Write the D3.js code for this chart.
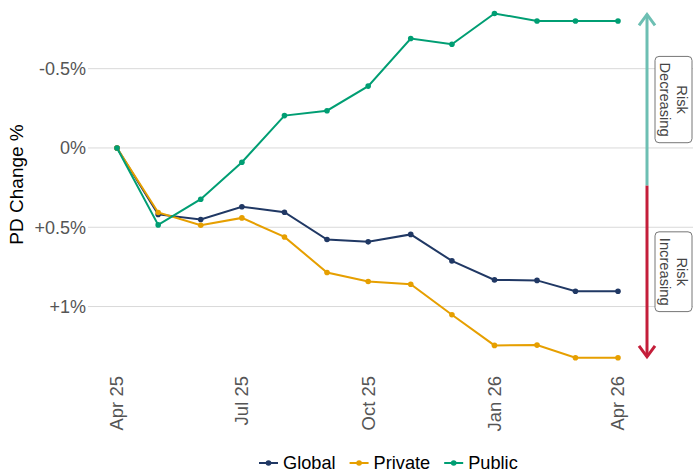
<!DOCTYPE html>
<html>
<head>
<meta charset="utf-8">
<script src="https://cdn.jsdelivr.net/npm/d3@7"></script>
<style>
  body { margin: 0; background: #fff; }
  svg { display: block; font-family: "Liberation Sans", Arial, sans-serif; }
</style>
</head>
<body>
<div id="canvas"></div>
<script>
// monthly dates
const months = ["2025-04-01","2025-05-01","2025-06-01","2025-07-01","2025-08-01","2025-09-01",
  "2025-10-01","2025-11-01","2025-12-01","2026-01-01","2026-02-01","2026-03-01","2026-04-01"];
const globalPD  = [0, 0.419, 0.451, 0.371, 0.405, 0.577, 0.592, 0.545, 0.712, 0.832, 0.835, 0.903, 0.903];
const privatePD = [0, 0.407, 0.487, 0.441, 0.561, 0.785, 0.842, 0.859, 1.052, 1.245, 1.243, 1.323, 1.323];
const publicPD  = [0, 0.485, 0.323, 0.090, -0.204, -0.235, -0.390, -0.690, -0.654, -0.848, -0.801, -0.801, -0.801];
const seriesNames = ["Global", "Private", "Public"];
const seriesColors = ["#203864", "#e69f00", "#009e73"];
const yTicks = [-0.5, 0, 0.5, 1];
const yTickLabels = ["-0.5%", "0%", "+0.5%", "+1%"];
const xTicks = ["2025-04-01", "2025-07-01", "2025-10-01", "2026-01-01", "2026-04-01"];
const xTickLabels = ["Apr 25", "Jul 25", "Oct 25", "Jan 26", "Apr 26"];
const riskLabels = [["Risk", "Decreasing"], ["Risk", "Increasing"]];

const width = 693, height = 472;
const parse = d3.timeParse("%Y-%m-%d");
const dates = months.map(parse);
const allSeries = [globalPD, privatePD, publicPD].map((vals, i) => ({
  name: seriesNames[i], color: seriesColors[i],
  values: vals.map((v, j) => ({ date: dates[j], v: v }))
}));

const svg = d3.select("#canvas").append("svg")
  .attr("width", width).attr("height", height);

const x = d3.scaleTime()
  .domain([parse(months[0]), parse(months[months.length - 1])])
  .range([117, 618]);
const y = d3.scaleLinear()
  .domain([-0.933, 1.40])
  .range([0, 370]);

// gridlines + y labels
const yAxis = svg.append("g");
yAxis.selectAll("line").data(yTicks).enter().append("line")
  .attr("x1", 88).attr("x2", width)
  .attr("y1", d => y(d)).attr("y2", d => y(d))
  .attr("stroke", "#d9d9d9").attr("stroke-width", 1);
yAxis.selectAll("text").data(yTicks).enter().append("text")
  .attr("x", 86).attr("y", d => y(d))
  .attr("dy", "0.35em")
  .attr("text-anchor", "end")
  .attr("font-size", 18).attr("fill", "#555")
  .text((d, i) => yTickLabels[i]);

svg.append("text")
  .attr("transform", `translate(23,${y(0.23)}) rotate(-90)`)
  .attr("text-anchor", "middle")
  .attr("font-size", 19).attr("fill", "#000")
  .text("PD Change %");

// x labels
svg.append("g").selectAll("text").data(xTicks).enter().append("text")
  .attr("transform", d => `translate(${x(parse(d))},376) rotate(-90)`)
  .attr("dy", "0.35em")
  .attr("text-anchor", "end")
  .attr("font-size", 18.5).attr("fill", "#555")
  .text((d, i) => xTickLabels[i]);

// risk arrow
const ext = d3.extent([].concat(globalPD, privatePD, publicPD));
const ax = 647, aTop = y(ext[0]), aBot = y(ext[1]), aMid = (aTop + aBot) / 2;
svg.append("line").attr("x1", ax).attr("x2", ax).attr("y1", aTop + 1).attr("y2", aMid)
  .attr("stroke", "#6dbfb3").attr("stroke-width", 3);
svg.append("line").attr("x1", ax).attr("x2", ax).attr("y1", aMid).attr("y2", aBot - 1)
  .attr("stroke", "#c41e3a").attr("stroke-width", 3);
svg.append("path")
  .attr("d", `M${ax - 8},${aTop + 12}L${ax},${aTop + 1}L${ax + 8},${aTop + 12}`)
  .attr("fill", "none").attr("stroke", "#6dbfb3").attr("stroke-width", 3);
svg.append("path")
  .attr("d", `M${ax - 8},${aBot - 12}L${ax},${aBot - 1}L${ax + 8},${aBot - 12}`)
  .attr("fill", "none").attr("stroke", "#c41e3a").attr("stroke-width", 3);

// label boxes
[0.25, 0.75].forEach((f, i) => {
  const cy = aTop + (aBot - aTop) * f;
  const g = svg.append("g").attr("transform", `translate(673.5,${cy}) rotate(90)`);
  const rect = g.append("rect");
  const t = g.append("text")
    .attr("text-anchor", "middle").attr("font-size", 14.7).attr("fill", "#444");
  riskLabels[i].forEach((s, k) => {
    t.append("tspan").attr("x", 0).attr("y", (k === 0 ? -8.35 : 8.35) + 5.2).text(s);
  });
  const w = d3.max(t.selectAll("tspan").nodes(), n => n.getComputedTextLength());
  rect.attr("x", -w / 2 - 6).attr("y", -18.5)
    .attr("width", w + 12).attr("height", 37)
    .attr("rx", 4)
    .attr("fill", "#fff").attr("stroke", "#666").attr("stroke-width", 0.9);
});

// lines and points
const line = d3.line().x(d => x(d.date)).y(d => y(d.v));
const sg = svg.append("g").selectAll("g").data(allSeries).enter().append("g");
sg.append("path")
  .attr("d", d => line(d.values))
  .attr("fill", "none")
  .attr("stroke", d => d.color)
  .attr("stroke-width", 2);
sg.selectAll("circle").data(d => d.values.map(p => ({ ...p, color: d.color }))).enter().append("circle")
  .attr("cx", d => x(d.date)).attr("cy", d => y(d.v))
  .attr("r", 2.8).attr("fill", d => d.color);

// legend
const legend = svg.append("g");
let lx = 259;
allSeries.forEach(s => {
  const item = legend.append("g").attr("transform", `translate(${lx},463)`);
  item.append("line").attr("x1", 0).attr("x2", 19).attr("stroke", s.color).attr("stroke-width", 2);
  item.append("circle").attr("cx", 9.5).attr("r", 2.8).attr("fill", s.color);
  const tx = item.append("text").attr("x", 24).attr("y", 6.3)
    .attr("font-size", 18.2).attr("fill", "#000").text(s.name);
  lx += 24 + tx.node().getComputedTextLength() + 14;
});
</script>
</body>
</html>
